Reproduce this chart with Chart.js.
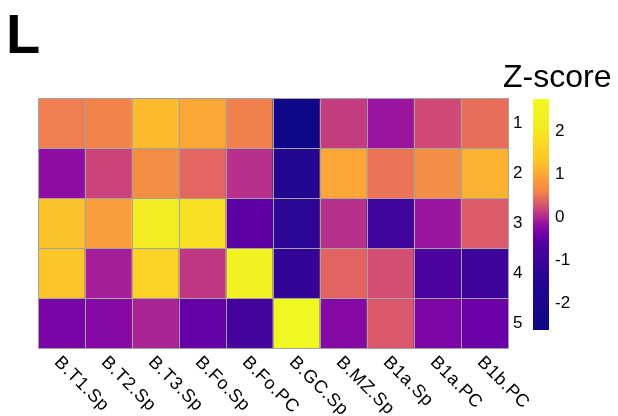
<!DOCTYPE html>
<html>
<head>
<meta charset="utf-8">
<script src="https://cdn.jsdelivr.net/npm/chart.js@4"></script>
<style>
  html, body { margin: 0; padding: 0; background: #fff; }
  #wrap { width: 618px; height: 416px; }
</style>
</head>
<body>
<div id="wrap"><canvas id="heat" width="618" height="416"></canvas></div>
<script>
// data
const columns = ['B.T1.Sp', 'B.T2.Sp', 'B.T3.Sp', 'B.Fo.Sp', 'B.Fo.PC', 'B.GC.Sp', 'B.MZ.Sp', 'B1a.Sp', 'B1a.PC', 'B1b.PC'];
const rowNames = ['1', '2', '3', '4', '5'];
const zRow1 = [0.54, 0.58, 1.20, 0.98, 0.56, -2.63, 0.13, -0.13, 0.21, 0.44];
const zRow2 = [-0.19, 0.17, 0.70, 0.40, 0.04, -1.65, 0.98, 0.48, 0.70, 1.11];
const zRow3 = [1.29, 0.86, 2.07, 1.82, -0.54, -1.31, 0.04, -0.93, -0.13, 0.32];
const zRow4 = [1.33, -0.08, 1.58, 0.09, 2.30, -1.21, 0.38, 0.24, -0.65, -1.03];
const zRow5 = [-0.34, -0.26, -0.04, -0.48, -0.84, 2.70, -0.26, 0.30, -0.31, -0.43];
const zRows = [zRow1, zRow2, zRow3, zRow4, zRow5];
const legendTicks = [-2, -1, 0, 1, 2];
const legendMin = -2.63;
const legendMax = 2.74;

// colour scale (plasma, squeezed round zero like the legend)
const plasma = ['#0d0887', '#41049d', '#6a00a8', '#8f0da4', '#b12a90', '#cc4778',
  '#e16462', '#f2844b', '#fca636', '#fcce25', '#f0f921'];
const knotValue = [-2.63, -1.4, -0.65, -0.23, 0, 0.28, 0.58, 0.98, 1.33, 2.07, 2.74];
const knotT = [0, 0.05, 0.13, 0.28, 0.40, 0.55, 0.70, 0.80, 0.88, 0.97, 1];

function hexToRgb(h) {
  return [parseInt(h.slice(1, 3), 16), parseInt(h.slice(3, 5), 16), parseInt(h.slice(5, 7), 16)];
}

function valueToT(v) {
  if (v <= knotValue[0]) return 0;
  for (let i = 1; i < knotValue.length; i++) {
    if (v <= knotValue[i]) {
      let f = (v - knotValue[i - 1]) / (knotValue[i] - knotValue[i - 1]);
      return knotT[i - 1] + f * (knotT[i] - knotT[i - 1]);
    }
  }
  return 1;
}

function colorFor(v) {
  let t = valueToT(v) * (plasma.length - 1);
  let i = Math.min(Math.floor(t), plasma.length - 2);
  let f = t - i;
  let a = hexToRgb(plasma[i]);
  let b = hexToRgb(plasma[i + 1]);
  let c = a.map((x, k) => Math.round(x + (b[k] - x) * f));
  return `rgb(${c[0]}, ${c[1]}, ${c[2]})`;
}

const labelFont = '17px "Liberation Sans", Arial, sans-serif';

// grid lines, labels and colour key
const heatDecor = {
  id: 'heatDecor',
  afterDatasetsDraw(chart) {
    const ctx = chart.ctx;
    const x = chart.scales.x;
    const y = chart.scales.y;
    const area = chart.chartArea;

    ctx.save();
    ctx.strokeStyle = '#a3a3a3';
    ctx.lineWidth = 1;
    ctx.beginPath();
    for (let i = 0; i <= columns.length; i++) {
      let px;
      if (i === 0) px = area.left;
      else if (i === columns.length) px = area.right;
      else px = (x.getPixelForValue(i - 1) + x.getPixelForValue(i)) / 2;
      px = Math.round(px) + 0.5;
      ctx.moveTo(px, area.top);
      ctx.lineTo(px, area.bottom);
    }
    for (let k = 0; k <= rowNames.length; k++) {
      let py = Math.round(y.getPixelForValue(k)) + 0.5;
      ctx.moveTo(area.left, py);
      ctx.lineTo(area.right + 1, py);
    }
    ctx.stroke();

    ctx.fillStyle = '#000';
    ctx.font = labelFont;

    // row names on the right
    ctx.textAlign = 'left';
    ctx.textBaseline = 'middle';
    rowNames.forEach((r, i) => {
      ctx.fillText(r, area.right + 5, y.getPixelForValue(rowNames.length - i - 0.5));
    });

    // column names, turned 45 degrees
    ctx.font = '18px "Liberation Sans", Arial, sans-serif';
    columns.forEach((c, i) => {
      ctx.save();
      ctx.letterSpacing = '0.6px';
      ctx.translate(x.getPixelForValue(i) - 8, area.bottom + 15);
      ctx.rotate(Math.PI / 4);
      ctx.textAlign = 'left';
      ctx.textBaseline = 'alphabetic';
      ctx.fillText(c, 0, 0);
      ctx.restore();
    });

    // colour key
    const barL = 533, barW = 16, barTop = 99, barBottom = 330;
    const grad = ctx.createLinearGradient(0, barBottom, 0, barTop);
    for (let s = 0; s <= 100; s++) {
      let v = legendMin + (legendMax - legendMin) * s / 100;
      grad.addColorStop(s / 100, colorFor(v));
    }
    ctx.fillStyle = grad;
    ctx.fillRect(barL, barTop, barW, barBottom - barTop);

    ctx.fillStyle = '#000';
    ctx.font = labelFont;
    ctx.textAlign = 'left';
    ctx.textBaseline = 'middle';
    legendTicks.forEach(t => {
      let py = barTop + (legendMax - t) / (legendMax - legendMin) * (barBottom - barTop);
      ctx.fillText(String(t), barL + barW + 6, py);
    });

    ctx.textBaseline = 'alphabetic';
    ctx.font = '32px "Liberation Sans", Arial, sans-serif';
    ctx.fillText('Z-score', 503, 87);

    ctx.font = 'bold 56px "Liberation Sans", Arial, sans-serif';
    ctx.fillText('L', 6, 53);
    ctx.restore();
  }
};

const datasets = zRows.map((vals, i) => ({
  label: rowNames[i],
  data: vals.map(() => [rowNames.length - i - 1, rowNames.length - i]),
  backgroundColor: vals.map(colorFor),
  borderWidth: 0,
  barPercentage: 1,
  categoryPercentage: 1,
  grouped: false
}));

new Chart(document.getElementById('heat'), {
  type: 'bar',
  data: { labels: columns, datasets: datasets },
  options: {
    responsive: false,
    animation: false,
    layout: { padding: { left: 38, top: 98, right: 110, bottom: 68 } },
    scales: {
      x: { display: false },
      y: { display: false, min: 0, max: rowNames.length }
    },
    plugins: {
      legend: { display: false },
      tooltip: { enabled: false }
    }
  },
  plugins: [heatDecor]
});
</script>
</body>
</html>
